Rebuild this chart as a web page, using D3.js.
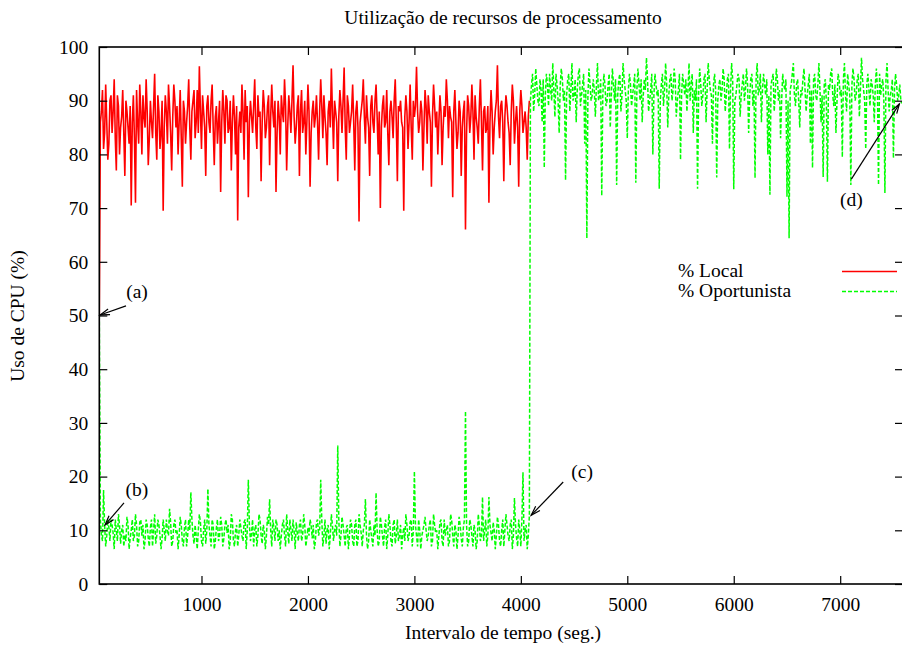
<!DOCTYPE html>
<html>
<head>
<meta charset="utf-8">
<script src="https://cdn.jsdelivr.net/npm/d3@7"></script>
<style>
body { margin: 0; background: white; }
svg text { font-family: "Liberation Serif", "Times New Roman", serif; fill: black; }
</style>
</head>
<body>
<svg></svg>
<script>
var w = 902;
var h = 645;

// sampling: one reading every 10 s, starting at t = 40 s
var tStart = 40;
var tStep = 10;

// % Local (CPU used by the local owner), t = 40 .. 4080
var localCpu = [50,
	86, 88, 92, 81, 84, 93, 86, 79, 82, 90, 91, 84, 88, 94, 83, 77, 91, 89, 80, 85,
	87, 92, 84, 76, 90, 88, 85, 82, 89, 70.5, 86, 91, 83, 71, 92, 86, 82, 93, 88, 80,
	91, 87, 85, 94, 88, 78, 83, 90, 86, 83, 89, 95, 84, 79, 91, 88, 81, 84, 90, 69.5,
	85, 91, 88, 82, 93, 89, 84, 77, 87, 93, 90, 85, 89, 80, 86, 92, 83, 74, 90, 88,
	82, 86, 89, 94, 85, 79, 88, 90, 92, 83, 86, 92, 84, 96.4, 88, 81, 91, 88, 85, 76,
	89, 91, 86, 84, 90, 93, 85, 78, 87, 89, 82, 86, 90, 73, 86, 92, 88, 82, 91, 90,
	84, 85, 90, 77, 86, 91, 87, 80, 89, 67.7, 85, 88, 84, 93, 88, 79, 92, 86, 89, 72,
	86, 90, 87, 84, 89, 94, 85, 81, 91, 87, 88, 75, 86, 92, 89, 83, 85, 89, 91, 78,
	87, 93, 88, 85, 90, 73, 84, 90, 87, 80, 91, 88, 86, 94, 89, 77, 85, 91, 88, 84,
	90, 96.6, 87, 82, 85, 89, 91, 76, 88, 92, 84, 86, 90, 80, 86, 93, 88, 74, 84, 88,
	90, 85, 87, 91, 86, 79, 88, 94, 89, 83, 91, 87, 84, 78, 88, 90, 85, 96, 88, 81,
	90, 88, 86, 75, 87, 92, 89, 84, 90, 96.2, 85, 79, 91, 89, 84, 86, 88, 93, 86, 77,
	88, 90, 85, 67.5, 86, 88, 90, 94, 87, 82, 91, 87, 85, 76, 89, 91, 86, 84, 90, 93,
	87, 80, 88, 70, 85, 89, 91, 85, 86, 92, 84, 78, 88, 90, 87, 83, 90, 94, 86, 75,
	89, 88, 90, 86, 85, 69.5, 87, 91, 88, 81, 86, 93, 85, 79, 90, 87, 89, 96.3, 88, 84,
	86, 90, 88, 77, 85, 92, 89, 82, 91, 88, 86, 74, 87, 93, 89, 85, 88, 80, 86, 91,
	88, 78, 85, 89, 87, 94, 90, 83, 89, 87, 86, 72, 88, 92, 86, 81, 84, 90, 88, 76,
	85, 88, 90, 66, 84, 91, 89, 84, 87, 93, 88, 79, 91, 87, 85, 82, 89, 94, 86, 77,
	88, 89, 84, 85, 89, 71, 86, 92, 88, 80, 85, 88, 90, 96.6, 87, 83, 89, 90, 86, 75,
	87, 91, 89, 86, 84, 78, 88, 93, 90, 82, 86, 89, 85, 74, 88, 92, 89, 84, 86, 88, 85, 79, 87, 90];

// % Oportunista while the machine is in use, t = 40 .. 4080
var oppIdle = [50,
	12, 9, 8, 17.5, 11, 7, 9, 12, 10.5, 8, 12, 11, 9.5, 6.5, 12, 10, 8, 13, 11, 7.5,
	10, 11, 7, 9, 8, 12.5, 11, 6.5, 8.5, 10, 12, 8, 9, 13, 11, 7, 8, 11.5, 12, 9,
	11, 6.5, 8, 12, 11, 8.5, 7, 10.5, 12, 7, 10, 13, 7.5, 9, 12, 11, 9, 6.5, 8.5, 12,
	10, 8, 12, 10, 9, 14, 11.5, 7, 8, 11, 12, 9.5, 10, 6.5, 9, 12.5, 11, 8, 7, 10.5,
	12, 7, 9, 12, 10, 17.1, 12, 9, 7.5, 11, 9, 6.5, 10, 13, 11.5, 8, 7, 10, 12, 7.5,
	10, 17.7, 11, 9, 7, 12, 11, 6.5, 8, 10.5, 12, 8, 9, 12.5, 11, 7, 8.5, 11, 12, 9.5,
	11, 6.5, 8, 13, 12, 8, 7, 10, 11, 7, 9, 12, 10.5, 9, 8, 11.5, 12, 6.5, 10, 19.4,
	11, 8, 9.5, 12, 7, 10, 11, 7, 9, 13, 12, 9, 7.5, 11, 10, 6.5, 9, 12.5, 11, 15.8,
	10, 7, 12, 10.5, 8, 12, 11, 8, 10, 6.5, 9, 11, 12, 9, 7, 13, 10, 7.5, 12, 10,
	8, 12, 10, 6.5, 11.5, 9.5, 8, 11, 12, 8, 9, 13, 11, 7, 8.5, 10.5, 9, 12, 11, 8.5,
	11, 6.5, 8, 11.5, 12, 9, 10, 19.4, 12, 7, 9, 12, 7.5, 10, 11, 6.5, 9, 13, 11, 8,
	10, 11, 9, 25.8, 12, 7, 9, 12.5, 11, 9, 7, 10.5, 11, 6.5, 9, 12, 11, 8, 7, 11,
	12, 7, 8, 13, 11, 9.5, 7, 10, 11, 15.8, 9, 6.5, 8, 12, 10, 8.5, 7, 11, 9, 17,
	10, 7, 8, 12.5, 11, 9, 7, 10.5, 12, 6.5, 9, 13, 11, 8, 7, 11, 12, 7.5, 9, 12,
	8, 9, 11, 6.5, 9, 10.5, 8, 13, 11, 8, 9, 11.5, 12, 7, 10, 21, 11, 9, 7, 12,
	10, 6.5, 9, 10, 11, 12.5, 10, 8, 9, 11, 12, 7, 8, 13, 11, 9.5, 10, 6.5, 9, 11.5,
	12, 8, 7, 12, 9, 10, 11, 7, 8, 13, 12, 9, 7, 11, 10, 6.5, 9, 12.5, 11, 8.5,
	7, 10.5, 12, 32.2, 11, 7, 8, 12, 11, 9, 7, 11, 10, 6.5, 8, 13, 11, 8, 9, 16.2,
	8, 10, 12, 7, 9, 16.2, 11, 9.5, 8, 11.5, 10, 6.5, 9, 12.5, 11, 8, 7, 10, 12, 7,
	10, 13, 11, 9, 8, 11, 12, 6.5, 9, 16, 11, 8.5, 7, 12, 10, 7, 12, 20.8, 8, 10, 11, 6.5, 9, 12.7];

// % Oportunista after the local load stops, t = 4090 .. 7580
var oppFree = [
	90, 93, 95, 88, 91, 96, 93, 90, 89, 94, 92, 86, 94, 77.5, 91, 95, 93, 89, 95, 92,
	90, 97, 92, 87, 95, 93, 90, 84, 93, 96, 94, 90, 92, 75.2, 91, 94, 95, 88, 92, 97,
	90, 91, 94, 86, 92, 95, 96, 89, 91, 93, 95, 82, 92, 64.4, 91, 96, 93, 90, 91, 94,
	92, 87, 93, 97, 90, 91, 94, 72.3, 91, 95, 93, 89, 90, 93, 95, 85, 91, 96, 93, 90,
	94, 74.3, 91, 94, 95, 88, 91, 97, 94, 92, 90, 83, 92, 95, 93, 89, 91, 93, 95, 74.7,
	92, 96, 93, 90, 94, 86, 91, 94, 92, 98, 94, 88, 90, 92, 95, 80, 91, 95, 93, 91,
	92, 73.6, 90, 93, 95, 89, 92, 97, 93, 85, 91, 94, 95, 90, 92, 96, 94, 87, 90, 92,
	95, 79, 91, 95, 93, 91, 94, 88, 92, 97, 90, 93, 95, 84, 92, 90, 94, 73.6, 91, 96,
	93, 89, 91, 94, 95, 86, 92, 97, 94, 92, 91, 82, 93, 95, 92, 75.7, 90, 93, 94, 90,
	92, 96, 94, 88, 91, 94, 95, 81, 92, 97, 94, 73.5, 90, 91, 93, 95, 94, 87, 91, 93,
	95, 90, 92, 96, 93, 84, 91, 94, 95, 89, 92, 75.6, 94, 97, 91, 92, 95, 86, 92, 95,
	93, 91, 94, 80, 91, 72.5, 93, 94, 95, 88, 91, 96, 94, 90, 92, 83, 90, 95, 93, 92,
	94, 72.1, 90, 64.4, 92, 93, 95, 97, 91, 89, 93, 94, 90, 85, 92, 91, 94, 96, 92, 88,
	91, 93, 95, 82, 92, 77.5, 94, 95, 91, 90, 93, 97, 92, 86, 91, 75.8, 93, 94, 90, 74.9,
	93, 92, 95, 96, 91, 89, 93, 84, 90, 95, 94, 91, 92, 79.5, 94, 97, 91, 88, 95, 93,
	91, 74.3, 93, 96, 94, 90, 91, 94, 95, 87, 92, 98, 94, 92, 90, 81, 93, 95, 92, 89,
	94, 93, 91, 86, 93, 96, 92, 74.3, 95, 91, 93, 94, 90, 72.8, 94, 97, 92, 88, 91, 92,
	94, 79.3, 92, 95, 93, 90, 91, 93, 90, 89.5];

var xTicks = [1000, 2000, 3000, 4000, 5000, 6000, 7000];
var yTicks = [0, 10, 20, 30, 40, 50, 60, 70, 80, 90, 100];
var seriesNames = ["% Local", "% Oportunista"];
var seriesColors = ["#ff0000", "#00ff00"];

// annotations, in data units: label position, arrow start, arrow end
var notes = [
	{ label: "(a)", lx: 394, ly: 54.4, x1: 291, y1: 51.8, x2: 47, y2: 50.1 },
	{ label: "(b)", lx: 394, ly: 17.5, x1: 272, y1: 15.1, x2: 94, y2: 11 },
	{ label: "(c)", lx: 4576, ly: 20.9, x1: 4398, y1: 19, x2: 4097, y2: 12.8 },
	{ label: "(d)", lx: 7105, ly: 71.5, x1: 7105, y1: 75.4, x2: 7556, y2: 89.4 }
];

var plotLeft = 99.3, plotRight = 903, plotTop = 47, plotBottom = 584;

var canvas = d3.select("svg")
	.attr("width", w)
	.attr("height", h)
	.style("background-color", "white");

var x = d3.scaleLinear().domain([40, 7590]).range([plotLeft, plotRight]);
var y = d3.scaleLinear().domain([0, 100]).range([plotBottom, plotTop]);

function toPoints(values, t0) {
	return values.map(function (v, i) { return [t0 + i * tStep, v]; });
}
var localPts = toPoints(localCpu, tStart);
var oppPts = toPoints(oppIdle, tStart).concat(toPoints(oppFree, tStart + oppIdle.length * tStep));

canvas.append("defs").append("clipPath").attr("id", "plotClip")
	.append("rect")
	.attr("x", plotLeft).attr("y", plotTop)
	.attr("width", plotRight - plotLeft).attr("height", plotBottom - plotTop);

var line = d3.line()
	.x(function (d) { return x(d[0]); })
	.y(function (d) { return y(d[1]); });

var plot = canvas.append("g").attr("clip-path", "url(#plotClip)");

plot.append("path")
	.attr("d", line(localPts))
	.attr("fill", "none")
	.attr("stroke", seriesColors[0])
	.attr("stroke-width", 1.6);

plot.append("path")
	.attr("d", line(oppPts))
	.attr("fill", "none")
	.attr("stroke", seriesColors[1])
	.attr("stroke-width", 1.5)
	.attr("stroke-dasharray", "4,2");

// axes, gnuplot style: ticks inside on all four sides
var fontSize = "19.5px";

var gx = canvas.append("g")
	.attr("transform", "translate(0," + plotBottom + ")")
	.call(d3.axisBottom(x).tickValues(xTicks).tickSize(-8).tickPadding(13).tickFormat(d3.format("d")));
var gxTop = canvas.append("g")
	.attr("transform", "translate(0," + plotTop + ")")
	.call(d3.axisTop(x).tickValues(xTicks).tickSize(-8).tickFormat(""));
var gy = canvas.append("g")
	.attr("transform", "translate(" + plotLeft + ",0)")
	.call(d3.axisLeft(y).tickValues(yTicks).tickSize(-8).tickPadding(11).tickFormat(d3.format("d")));
var gyRight = canvas.append("g")
	.attr("transform", "translate(" + plotRight + ",0)")
	.call(d3.axisRight(y).tickValues(yTicks).tickSize(-8).tickFormat(""));

[gx, gxTop, gy, gyRight].forEach(function (g) {
	g.select(".domain").remove();
	g.selectAll(".tick line").attr("stroke", "black").attr("stroke-width", 1.2);
	g.selectAll("text")
		.attr("font-family", "Liberation Serif, serif")
		.attr("font-size", fontSize)
		.attr("fill", "black");
});

canvas.append("rect")
	.attr("x", plotLeft).attr("y", plotTop)
	.attr("width", plotRight - plotLeft).attr("height", plotBottom - plotTop)
	.attr("fill", "none")
	.attr("stroke", "black")
	.attr("stroke-width", 1.6);

// titles
canvas.append("text")
	.attr("x", 503).attr("y", 24)
	.attr("text-anchor", "middle")
	.attr("font-size", fontSize)
	.text("Utilização de recursos de processamento");

canvas.append("text")
	.attr("x", 503).attr("y", 639)
	.attr("text-anchor", "middle")
	.attr("font-size", fontSize)
	.text("Intervalo de tempo (seg.)");

canvas.append("text")
	.attr("transform", "translate(24,316) rotate(-90)")
	.attr("text-anchor", "middle")
	.attr("font-size", fontSize)
	.text("Uso de CPU (%)");

// legend
var legend = canvas.append("g");
seriesNames.forEach(function (name, i) {
	legend.append("text")
		.attr("x", 678).attr("y", 277 + i * 20)
		.attr("font-size", fontSize)
		.text(name);
	legend.append("line")
		.attr("x1", 842).attr("x2", 897)
		.attr("y1", 271.5 + i * 20).attr("y2", 271.5 + i * 20)
		.style("stroke", seriesColors[i])
		.style("stroke-width", 1.6)
		.style("stroke-dasharray", i === 0 ? "none" : "4,2");
});

// annotation arrows
notes.forEach(function (n) {
	var ax = x(n.x1), ay = y(n.y1), bx = x(n.x2), by = y(n.y2);
	canvas.append("line")
		.attr("x1", ax).attr("y1", ay).attr("x2", bx).attr("y2", by)
		.attr("stroke", "black").attr("stroke-width", 1.2);
	var ang = Math.atan2(by - ay, bx - ax);
	var len = 10, spread = 0.3;
	var head = d3.path();
	head.moveTo(bx - len * Math.cos(ang - spread), by - len * Math.sin(ang - spread));
	head.lineTo(bx, by);
	head.lineTo(bx - len * Math.cos(ang + spread), by - len * Math.sin(ang + spread));
	canvas.append("path")
		.attr("d", head.toString())
		.attr("fill", "none")
		.attr("stroke", "black").attr("stroke-width", 1.2);
	canvas.append("text")
		.attr("x", x(n.lx)).attr("y", y(n.ly) + 6)
		.attr("text-anchor", "middle")
		.attr("font-size", fontSize)
		.text(n.label);
});
</script>
</body>
</html>
